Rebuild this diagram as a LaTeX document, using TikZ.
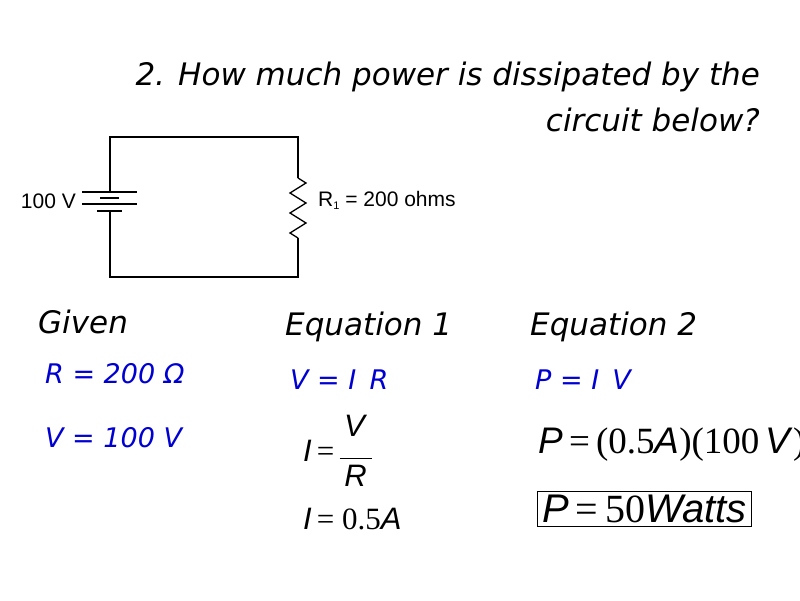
\documentclass[tikz,border=0pt]{standalone}
\usepackage{fontspec}
\setmainfont{Liberation Sans}
\newfontfamily\tah{DejaVu Sans}
\newfontfamily\ser{Liberation Serif}
\definecolor{eqblue}{RGB}{0,0,210}
\begin{document}
\begin{tikzpicture}[x=1pt,y=-1pt,
  ttl/.style={font=\tah\itshape\fontsize{31}{36}\selectfont,inner sep=0pt},
  hdr/.style={font=\tah\itshape\fontsize{31}{36}\selectfont,inner sep=0pt,anchor=west},
  bl/.style={font=\tah\itshape\fontsize{27}{32}\selectfont,inner sep=0pt,anchor=west,text=eqblue},
  lab/.style={font=\fontsize{21}{24}\selectfont,inner sep=0pt},
  eq/.style={inner sep=0pt,anchor=west},
  wire/.style={line width=1.3pt}]
\useasboundingbox (0,0) rectangle (800,600);
\node[ttl,anchor=east] (t1) at (760,77) {2. How much power is dissipated by the};
\node[ttl,anchor=east] (t2) at (760,120) {circuit below?};
% circuit
\coordinate (tl) at (110,137); \coordinate (tr) at (298,137);
\coordinate (bl) at (110,277); \coordinate (br) at (298,277);
\coordinate (bt) at (110,192); \coordinate (bb) at (110,211);
\coordinate (rt) at (298,178); \coordinate (rb) at (298,238);
\draw[wire] (bt) -- (tl) -- (tr) -- (rt);
\draw[wire] (rb) -- (br) -- (bl) -- (bb);
\draw[wire] (rt) -- (306,183) -- (290,193) -- (306,203) -- (290,213) -- (306,223) -- (290,233) -- (rb);
\draw[line width=1.2pt] (82,192) -- (137,192);
\draw[line width=1.4pt] (100,198) -- (119,198);
\draw[line width=1.6pt] (82,204) -- (137,204);
\draw[line width=1.4pt] (97,211) -- (122,211);
\node[lab,anchor=east] (vl) at (76,201) {100 V};
\node[lab,anchor=west] (rl) at (318,200) {R{\fontsize{11}{12}\selectfont\raisebox{-3pt}{1}} = 200 ohms};
% given
\node[hdr] (g) at (38,322) {Given};
\node[bl] (r) at (45,374) {R = 200 Ω};
\node[bl] (v) at (45,438) {V = 100 V};
\node[hdr] (e1) at (285,327) {Equation 1};
\node[bl] (vir) at (290,380) {V = I\, R};
\node[hdr] (e2) at (530,327) {Equation 2};
\node[bl] (piv) at (535,380) {P = I\, V};
% equations
\node[eq,font=\fontsize{31}{34}\selectfont] (i1) at (303,455) {\textit{I}\,{\ser=}\,$\vcenter{\hbox{\begin{tabular}{@{}c@{}}\textit{V}\\[-12pt]\rule{32pt}{0.9pt}\\[-6pt]\textit{R}\end{tabular}}}$};
\node[eq,font=\fontsize{31}{34}\selectfont] (i2) at (303,519) {\textit{I}\,{\ser= 0.5}\textit{A}};
\node[eq,font=\fontsize{37}{40}\selectfont] (p1) at (538,445) {\textit{P}\,{\ser=\,(0.5}\textit{A}{\ser)(100}\,\textit{V}{\ser)}};
\node[eq,draw,line width=1pt,inner xsep=5pt,inner ysep=4pt,font=\fontsize{40}{44}\selectfont] (p2) at (537,509) {\textit{P}\,{\ser=\,50}\textit{Watts}};
\end{tikzpicture}
\end{document}
